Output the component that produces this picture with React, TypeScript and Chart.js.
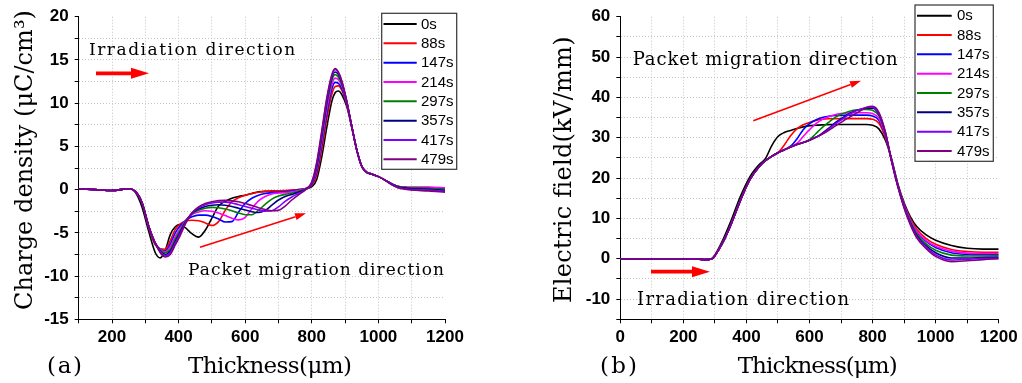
import React, { useEffect, useRef } from 'react';
import { Chart, registerables } from 'chart.js';
Chart.register(...registerables);

const seriesLabels = ['0s', '88s', '147s', '214s', '297s', '357s', '417s', '479s'];
const seriesColors = ['#000000', '#ff0000', '#0000ff', '#ff00ff', '#008000', '#000080', '#8000ff', '#800080'];

// ---------- Panel (a): charge density ----------
const thicknessA = [100, 150, 200, 250, 270, 290, 310, 330, 345, 360, 375, 390, 405, 420, 440, 460, 480, 500, 520, 540, 560, 580, 600, 620, 640, 660, 680, 700, 720, 740, 760, 780, 800, 815, 830, 845, 860, 870, 880, 890, 905, 920, 935, 950, 965, 980, 1000, 1020, 1040, 1060, 1080, 1100, 1150, 1200];
const densityTicksY = [-15, -10, -5, 0, 5, 10, 15, 20];
const density0s = [0.1, 0, -0.1, 0.1, -0.3, -2.0, -4.8, -7.3, -7.9, -7.0, -5.2, -4.3, -4.05, -4.4, -5.1, -5.5, -4.7, -3.3, -1.9, -1.35, -1.0, -0.8, -0.65, -0.45, -0.25, -0.2, -0.2, -0.15, -0.15, -0.1, 0, 0.1, 0.35, 1.2, 3.8, 7.2, 10.2, 11.2, 11.4, 11.0, 9.6, 7.2, 4.6, 2.7, 2.0, 1.8, 1.5, 1.1, 0.65, 0.35, 0.25, 0.2, 0.1, -0.05];
const density88s = [0.1, 0, -0.1, 0.1, -0.2, -1.5, -4.4, -6.4, -6.85, -6.9, -5.9, -4.6, -3.95, -3.65, -3.55, -3.6, -3.85, -4.15, -3.7, -2.4, -1.4, -0.95, -0.65, -0.45, -0.3, -0.2, -0.15, -0.15, -0.1, -0.05, 0, 0.1, 0.5, 1.7, 4.6, 8.2, 11.0, 11.9, 12.0, 11.5, 9.8, 7.3, 4.6, 2.7, 2.0, 1.8, 1.5, 1.1, 0.65, 0.35, 0.28, 0.25, 0.25, 0.2];
const density147s = [0.1, 0, -0.1, 0.1, -0.2, -1.5, -4.3, -6.3, -6.9, -7.1, -6.3, -5.0, -4.2, -3.6, -3.15, -2.95, -2.95, -3.1, -3.4, -3.75, -3.7, -2.6, -1.6, -1.0, -0.65, -0.45, -0.35, -0.3, -0.25, -0.15, -0.05, 0.1, 0.6, 2.1, 5.2, 8.8, 11.6, 12.4, 12.3, 11.7, 9.9, 7.3, 4.6, 2.7, 2.0, 1.8, 1.5, 1.1, 0.65, 0.35, 0.25, 0.2, 0.15, 0.1];
const density214s = [0.1, 0, -0.1, 0.1, -0.2, -1.5, -4.2, -6.2, -6.9, -7.2, -6.6, -5.4, -4.5, -3.6, -2.9, -2.6, -2.45, -2.5, -2.7, -3.0, -3.3, -3.5, -3.2, -2.2, -1.3, -0.8, -0.5, -0.4, -0.35, -0.25, -0.1, 0.1, 0.65, 2.4, 5.6, 9.3, 12.1, 12.9, 12.7, 12.0, 10.0, 7.3, 4.6, 2.7, 2.0, 1.8, 1.5, 1.1, 0.65, 0.35, 0.3, 0.3, 0.3, 0.2];
const density297s = [0.1, 0, -0.1, 0.1, -0.2, -1.5, -4.2, -6.2, -7.0, -7.3, -6.9, -5.7, -4.7, -3.7, -2.8, -2.4, -2.15, -2.05, -2.1, -2.25, -2.45, -2.7, -2.9, -2.9, -2.4, -1.7, -1.1, -0.75, -0.55, -0.4, -0.2, 0.05, 0.7, 2.6, 6.0, 9.8, 12.6, 13.3, 13.0, 12.2, 10.1, 7.3, 4.6, 2.7, 2.0, 1.8, 1.5, 1.1, 0.65, 0.35, 0.25, 0.2, 0.15, 0.0];
const density357s = [0.1, 0, -0.1, 0.1, -0.2, -1.5, -4.2, -6.2, -7.1, -7.5, -7.1, -6.0, -4.9, -3.8, -2.75, -2.25, -1.95, -1.8, -1.75, -1.8, -1.95, -2.15, -2.35, -2.55, -2.65, -2.4, -1.8, -1.2, -0.8, -0.55, -0.3, 0.0, 0.75, 2.8, 6.3, 10.1, 12.9, 13.6, 13.3, 12.4, 10.2, 7.3, 4.6, 2.7, 2.0, 1.8, 1.5, 1.1, 0.65, 0.3, 0.2, 0.1, 0.05, -0.1];
const density417s = [0.1, 0, -0.1, 0.1, -0.2, -1.5, -4.2, -6.2, -7.2, -7.65, -7.3, -6.2, -5.1, -3.9, -2.7, -2.1, -1.75, -1.55, -1.45, -1.45, -1.55, -1.75, -1.95, -2.15, -2.35, -2.5, -2.45, -2.0, -1.35, -0.85, -0.45, -0.05, 0.8, 3.0, 6.6, 10.4, 13.1, 13.9, 13.5, 12.5, 10.2, 7.3, 4.6, 2.7, 2.0, 1.8, 1.5, 1.1, 0.6, 0.25, 0.1, 0.0, -0.05, -0.2];
const density479s = [0.1, 0, -0.1, 0.1, -0.2, -1.5, -4.2, -6.2, -7.3, -7.8, -7.5, -6.4, -5.3, -4.0, -2.7, -2.0, -1.6, -1.4, -1.27, -1.25, -1.3, -1.4, -1.6, -1.85, -2.1, -2.3, -2.45, -2.4, -1.9, -1.2, -0.6, -0.05, 0.9, 3.2, 6.8, 10.6, 13.3, 14.0, 13.6, 12.6, 10.2, 7.3, 4.6, 2.7, 2.0, 1.8, 1.5, 1.1, 0.55, 0.2, 0.05, -0.05, -0.15, -0.3];

// ---------- Panel (b): electric field ----------
const thicknessB = [0, 100, 200, 250, 270, 290, 310, 330, 350, 380, 410, 440, 460, 480, 500, 520, 540, 560, 580, 600, 620, 640, 660, 680, 700, 720, 740, 760, 780, 800, 820, 840, 860, 880, 900, 920, 940, 970, 1000, 1050, 1100, 1150, 1200];
const fieldTicksY = [-10, 0, 10, 20, 30, 40, 50, 60];
const field0s = [0, 0, 0, -0.1, -0.2, 0, 2.3, 5.5, 9.2, 15.3, 20.2, 23.3, 24.8, 28.0, 30.3, 31.3, 31.8, 32.3, 32.7, 33.0, 33.1, 33.2, 33.25, 33.3, 33.3, 33.3, 33.3, 33.3, 33.3, 33.1, 32.2, 29.5, 24.8, 18.6, 13.9, 10.4, 8.0, 5.9, 4.6, 3.3, 2.6, 2.4, 2.4];
const field88s = [0, 0, 0, -0.1, -0.2, 0, 2.0, 4.8, 8.3, 14.3, 19.5, 22.8, 24.3, 25.4, 26.3, 28.2, 30.5, 32.2, 33.2, 33.8, 34.3, 34.6, 34.7, 34.7, 34.75, 34.75, 34.75, 34.75, 34.75, 34.6, 33.6, 30.2, 24.7, 18.4, 13.5, 9.9, 7.3, 5.0, 3.6, 2.3, 1.8, 1.6, 1.6];
const field147s = [0, 0, 0, -0.1, -0.2, 0, 2.0, 4.8, 8.3, 14.3, 19.5, 22.8, 24.3, 25.4, 26.3, 27.0, 27.9, 29.7, 32.0, 33.5, 34.4, 35.0, 35.3, 35.5, 35.55, 35.6, 35.6, 35.6, 35.6, 35.4, 34.3, 30.6, 24.6, 18.3, 13.3, 9.5, 6.7, 4.3, 2.8, 1.5, 1.1, 1.0, 1.0];
const field214s = [0, 0, 0, -0.1, -0.2, 0, 2.0, 4.8, 8.3, 14.3, 19.5, 22.8, 24.3, 25.4, 26.3, 27.0, 27.7, 28.6, 30.3, 32.0, 33.5, 34.5, 35.2, 35.7, 36.0, 36.15, 36.2, 36.2, 36.2, 36.0, 34.8, 30.8, 24.6, 18.3, 13.3, 9.6, 6.9, 4.5, 3.1, 1.9, 1.4, 1.3, 1.3];
const field297s = [0, 0, 0, -0.1, -0.2, 0, 2.0, 4.8, 8.3, 14.3, 19.5, 22.8, 24.3, 25.4, 26.3, 27.0, 27.7, 28.3, 28.8, 29.5, 31.0, 32.5, 33.8, 35.0, 35.8, 36.4, 36.8, 37.0, 37.0, 36.8, 35.5, 31.2, 24.5, 18.2, 13.1, 9.2, 6.2, 3.7, 2.1, 0.9, 0.7, 0.7, 0.8];
const field357s = [0, 0, 0, -0.1, -0.2, 0, 2.0, 4.8, 8.3, 14.3, 19.5, 22.8, 24.3, 25.4, 26.3, 27.0, 27.7, 28.3, 28.8, 29.4, 30.1, 31.1, 32.3, 33.6, 34.7, 35.7, 36.5, 37.0, 37.3, 37.3, 35.8, 31.4, 24.4, 18.1, 12.9, 8.9, 5.8, 3.2, 1.5, 0.2, 0.2, 0.3, 0.4];
const field417s = [0, 0, 0, -0.1, -0.2, 0, 2.0, 4.8, 8.3, 14.3, 19.5, 22.8, 24.3, 25.4, 26.3, 27.0, 27.7, 28.3, 28.8, 29.4, 30.1, 30.9, 32.1, 33.3, 34.4, 35.5, 36.4, 37.0, 37.5, 37.6, 36.0, 31.5, 24.3, 18.0, 12.8, 8.7, 5.5, 2.9, 1.0, -0.3, -0.1, 0.1, 0.1];
const field479s = [0, 0, 0, -0.1, -0.2, 0, 2.0, 4.8, 8.3, 14.3, 19.5, 22.8, 24.3, 25.4, 26.3, 27.0, 27.7, 28.3, 28.8, 29.4, 30.1, 30.9, 31.8, 32.8, 33.8, 34.8, 35.7, 36.6, 37.5, 37.8, 36.3, 31.6, 24.2, 17.9, 12.6, 8.4, 5.2, 2.5, 0.6, -0.7, -0.5, -0.2, 0.0];

const densitySeries = [density0s, density88s, density147s, density214s, density297s, density357s, density417s, density479s];
const fieldSeries = [field0s, field88s, field147s, field214s, field297s, field357s, field417s, field479s];

const RED = '#ff0000';
const SERIF = '"DejaVu Serif", "Liberation Serif", serif';
const SANS = '"Liberation Sans", Arial, sans-serif';

function fitText(ctx: CanvasRenderingContext2D, text: string, x: number, y: number, width: number, font: string) {
  ctx.save();
  ctx.font = font;
  ctx.fillStyle = '#000';
  ctx.textAlign = 'left';
  ctx.textBaseline = 'alphabetic';
  (ctx as any).letterSpacing = '0px';
  const w = ctx.measureText(text).width;
  const n = Array.from(text).length;
  const ls = n > 1 ? (width - w) / (n - 1) : 0;
  (ctx as any).letterSpacing = ls.toFixed(2) + 'px';
  ctx.fillText(text, x, y);
  ctx.restore();
}

function vertText(ctx: CanvasRenderingContext2D, text: string, x: number, y: number, len: number, font: string) {
  ctx.save();
  ctx.translate(x, y);
  ctx.rotate(-Math.PI / 2);
  fitText(ctx, text, 0, 0, len, font);
  ctx.restore();
}

function thickArrow(ctx: CanvasRenderingContext2D, x0: number, x1: number, y: number) {
  ctx.save();
  ctx.fillStyle = RED;
  ctx.strokeStyle = RED;
  ctx.lineWidth = 3.7;
  ctx.beginPath();
  ctx.moveTo(x0, y);
  ctx.lineTo(x1 - 16, y);
  ctx.stroke();
  ctx.beginPath();
  ctx.moveTo(x1 - 18, y - 5.5);
  ctx.lineTo(x1, y);
  ctx.lineTo(x1 - 18, y + 5.5);
  ctx.closePath();
  ctx.fill();
  ctx.restore();
}

function thinArrow(ctx: CanvasRenderingContext2D, x0: number, y0: number, x1: number, y1: number) {
  ctx.save();
  ctx.strokeStyle = RED;
  ctx.fillStyle = RED;
  ctx.lineWidth = 1.6;
  const a = Math.atan2(y1 - y0, x1 - x0);
  const L = 11, H = 3.5;
  ctx.beginPath();
  ctx.moveTo(x0, y0);
  ctx.lineTo(x1 - L * Math.cos(a), y1 - L * Math.sin(a));
  ctx.stroke();
  ctx.beginPath();
  ctx.moveTo(x1, y1);
  ctx.lineTo(x1 - L * Math.cos(a) - H * Math.sin(a), y1 - L * Math.sin(a) + H * Math.cos(a));
  ctx.lineTo(x1 - L * Math.cos(a) + H * Math.sin(a), y1 - L * Math.sin(a) - H * Math.cos(a));
  ctx.closePath();
  ctx.fill();
  ctx.restore();
}

function drawLegend(ctx: CanvasRenderingContext2D, bx: number, by: number, bw: number, bh: number, row0: number, step: number, lx0: number, lx1: number, tx: number) {
  ctx.save();
  ctx.fillStyle = '#fff';
  ctx.fillRect(bx, by, bw, bh);
  ctx.strokeStyle = '#333';
  ctx.lineWidth = 1.2;
  ctx.strokeRect(bx, by, bw, bh);
  ctx.font = `15px ${SANS}`;
  ctx.textBaseline = 'middle';
  ctx.textAlign = 'left';
  seriesLabels.forEach((lab, i) => {
    const y = row0 + i * step;
    ctx.strokeStyle = seriesColors[i];
    ctx.lineWidth = 2;
    ctx.beginPath();
    ctx.moveTo(lx0, y);
    ctx.lineTo(lx1, y);
    ctx.stroke();
    ctx.fillStyle = '#000';
    ctx.fillText(lab, tx, y + 0.5);
  });
  ctx.restore();
}

const annotA = {
  id: 'annotA',
  afterDraw(chart: any) {
    const ctx = chart.ctx as CanvasRenderingContext2D;
    fitText(ctx, 'Irradiation direction', 89, 55, 206, `17px ${SERIF}`);
    thickArrow(ctx, 96, 149, 73.3);
    thinArrow(ctx, 200, 247.3, 306, 213.3);
    fitText(ctx, 'Packet migration direction', 188, 275, 256, `17px ${SERIF}`);
    drawLegend(ctx, 381.7, 13.3, 75, 156, 24, 19.33, 383.5, 416.7, 421);
    vertText(ctx, 'Charge density (μC/cm³)', 31.5, 310, 300, `24px ${SERIF}`);
    fitText(ctx, 'Thickness(μm)', 188, 373, 164, `23px ${SERIF}`);
    fitText(ctx, '(a)', 47, 373, 35, `23px ${SERIF}`);
  },
};

const annotB = {
  id: 'annotB',
  afterDraw(chart: any) {
    const ctx = chart.ctx as CanvasRenderingContext2D;
    fitText(ctx, 'Packet migration direction', 121.7, 65, 265, `18px ${SERIF}`);
    thinArrow(ctx, 242.3, 120.7, 350, 80.7);
    thickArrow(ctx, 140, 199, 271.7);
    fitText(ctx, 'Irradiation direction', 126, 305, 212, `18px ${SERIF}`);
    drawLegend(ctx, 404, 5, 78.3, 156.3, 15.7, 19.33, 406, 440.7, 446);
    vertText(ctx, 'Electric field(kV/mm)', 60, 303, 266, `24px ${SERIF}`);
    fitText(ctx, 'Thickness(μm)', 226.7, 373, 160, `23px ${SERIF}`);
    fitText(ctx, '(b)', 89, 373, 37, `23px ${SERIF}`);
  },
};

const tickFont = { family: SANS, size: 17, weight: 'bold' as const };

function makeConfig(xs: number[], ys: number[][], p: any, plugin: any): any {
  const datasets = ys.map((arr, i) => ({
    label: seriesLabels[i],
    data: arr.map((y, j) => ({ x: xs[j], y })),
    borderColor: seriesColors[i],
    backgroundColor: seriesColors[i],
    borderWidth: 1.6,
    pointRadius: 0,
    pointHoverRadius: 0,
    cubicInterpolationMode: 'monotone',
    fill: false,
    order: ys.length - i,
  }));
  const gridColor = (max: number) => (c: any) => (c.tick && c.tick.value === max ? 'rgba(0,0,0,0)' : '#c4c4c4');
  return {
    type: 'line',
    data: { datasets },
    plugins: [plugin],
    options: {
      responsive: false,
      animation: false,
      devicePixelRatio: 1,
      events: [],
      layout: { padding: { left: 0, top: p.top, right: p.right, bottom: 0 } },
      plugins: { legend: { display: false }, tooltip: { enabled: false }, title: { display: false } },
      scales: {
        x: {
          type: 'linear',
          min: p.xMin,
          max: 1200,
          afterFit: (s: any) => { s.height = p.xH; },
          ticks: {
            stepSize: 100,
            autoSkip: false,
            maxRotation: 0,
            padding: 4,
            color: '#000',
            font: tickFont,
            callback: (v: any) => (Math.round(v) % 200 === 0 ? String(v) : ''),
          },
          grid: { color: gridColor(1200), lineWidth: 1, tickLength: 4, tickColor: '#000', tickWidth: 1, tickBorderDash: [] },
          border: { display: true, color: '#000', width: 1, dash: [1, 2] },
        },
        y: {
          type: 'linear',
          min: p.yMin,
          max: p.yMax,
          afterFit: (s: any) => { s.width = p.yW; },
          ticks: {
            stepSize: p.yStep,
            autoSkip: false,
            padding: 6,
            color: '#000',
            font: tickFont,
            callback: (v: any) => (p.yLabels.includes(Number(v)) ? String(v) : ''),
          },
          grid: { color: gridColor(p.yMax), lineWidth: 1, tickLength: 4, tickColor: '#000', tickWidth: 1, tickBorderDash: [] },
          border: { display: true, color: '#000', width: 1, dash: [1, 2] },
        },
      },
    },
  };
}

const App = () => {
  const refA = useRef<HTMLCanvasElement>(null);
  const refB = useRef<HTMLCanvasElement>(null);
  useEffect(() => {
    const a = new Chart(refA.current as HTMLCanvasElement, makeConfig(thicknessA, densitySeries, {
      top: 16.7, right: 66, xMin: 100, xH: 63.7, yMin: -15, yMax: 20, yStep: 2.5, yW: 78.7, yLabels: densityTicksY,
    }, annotA));
    const b = new Chart(refB.current as HTMLCanvasElement, makeConfig(thicknessB, fieldSeries, {
      top: 16.7, right: 23.3, xMin: 0, xH: 63.7, yMin: -15, yMax: 60, yStep: 5, yW: 109.3, yLabels: fieldTicksY,
    }, annotB));
    return () => { a.destroy(); b.destroy(); };
  }, []);
  return (
    <div style={{ position: 'absolute', left: 0, top: 0, width: 1022, height: 383, background: '#fff' }}>
      <canvas ref={refA} width={511} height={383} style={{ position: 'absolute', left: 0, top: 0, width: 511, height: 383 }} />
      <canvas ref={refB} width={511} height={383} style={{ position: 'absolute', left: 511, top: 0, width: 511, height: 383 }} />
    </div>
  );
};

export default App;
